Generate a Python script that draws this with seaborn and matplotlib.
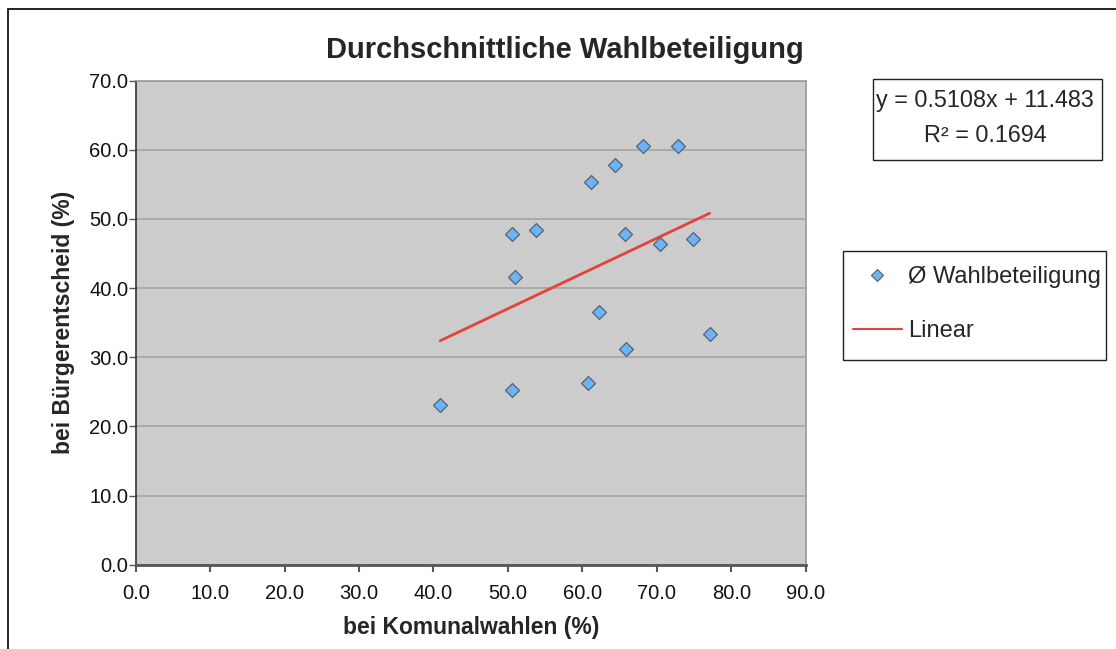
import numpy as np
import pandas as pd
import matplotlib
matplotlib.use('Agg')
import matplotlib.pyplot as plt
import seaborn as sns
from matplotlib.lines import Line2D
from matplotlib.patches import Rectangle

# Wahlbeteiligung je Gemeinde (%)
komunal = [40.9, 50.6, 50.6, 50.9, 53.8, 60.7, 61.2, 62.2, 64.4, 68.1, 72.8, 65.7, 65.9, 70.4, 74.9, 77.1]
buerger = [23.1, 25.2, 47.9, 41.6, 48.4, 26.3, 55.3, 36.5, 57.8, 60.6, 60.6, 47.9, 31.2, 46.4, 47.1, 33.4]

title = 'Durchschnittliche Wahlbeteiligung'
xlab = 'bei Komunalwahlen (%)'
ylab = 'bei Bürgerentscheid (%)'
series_name = 'Ø Wahlbeteiligung'
trend_name = 'Linear'
eq_line = 'y = 0.5108x + 11.483'
r2_line = 'R² = 0.1694'
ticks_x = [0, 10, 20, 30, 40, 50, 60, 70, 80, 90]
ticks_y = [0, 10, 20, 30, 40, 50, 60, 70]

df = pd.DataFrame({'komunal': komunal, 'buerger': buerger})

sns.set_style('white')
plt.rcParams['font.family'] = ['Liberation Sans', 'DejaVu Sans']

W, H = 1116, 649
fig = plt.figure(figsize=(W / 100, H / 100), dpi=100)

def fx(px):
    return px / W

def fy(py):
    return 1 - py / H

# outer chart border (only top/left visible in the crop)
fig.patches.append(Rectangle((fx(8), fy(1200)), 2, fy(9) - fy(1200), transform=fig.transFigure,
                             fill=False, edgecolor='black', lw=1.2))

ax = fig.add_axes([fx(135.7), fy(564.7), fx(805.7) - fx(135.7), fy(80.7) - fy(564.7)])
ax.set_facecolor('#cccccc')

red = '#e5423b'
blue = '#6db3f7'
sns.regplot(data=df, x='komunal', y='buerger', scatter=False, ci=None, ax=ax,
            line_kws=dict(color=red, lw=2, zorder=2))
sns.scatterplot(data=df, x='komunal', y='buerger', marker='D', s=50, color=blue,
                edgecolor='#56626e', linewidth=0.9, ax=ax, zorder=3, legend=False)

ax.set_xlim(0, 90)
ax.set_ylim(0, 70)
ax.set_xticks(ticks_x)
ax.set_yticks(ticks_y)
ax.set_xticklabels([f'{t:.1f}' for t in ticks_x])
ax.set_yticklabels([f'{t:.1f}' for t in ticks_y])
ax.yaxis.grid(True, color='#a4a4a4', lw=1.2)
ax.set_axisbelow(True)
ax.tick_params(axis='x', direction='out', length=5, width=1.5, color='#555555', pad=9,
               labelsize=14.5, labelcolor='#111111', bottom=True)
ax.tick_params(axis='y', direction='out', length=5, width=1, color='#555555', pad=0.3,
               labelsize=14.5, labelcolor='#111111', left=True)

for side in ['top', 'right']:
    ax.spines[side].set_color('#999999')
    ax.spines[side].set_linewidth(1.2)
ax.spines['left'].set_color('#333333')
ax.spines['left'].set_linewidth(1.2)
ax.spines['bottom'].set_color('#555555')
ax.spines['bottom'].set_linewidth(2)

ax.set_xlabel(xlab, fontsize=16.5, fontweight='bold', labelpad=9)
ax.set_ylabel(ylab, fontsize=16.5, fontweight='bold', labelpad=10)

fig.text(fx(565), fy(50), title, ha='center', va='center', fontsize=21, fontweight='bold')

# equation box
fig.patches.append(Rectangle((fx(872.7), fy(160)), fx(1101.7) - fx(872.7), fy(79.3) - fy(160),
                             transform=fig.transFigure, fill=False, edgecolor='#222222', lw=1))
fig.text(fx(985), fy(101), eq_line, ha='center', va='center', fontsize=16.8)
fig.text(fx(985), fy(136), r2_line, ha='center', va='center', fontsize=16.8)

# legend box
fig.patches.append(Rectangle((fx(843.3), fy(360)), fx(1106) - fx(843.3), fy(250.7) - fy(360),
                             transform=fig.transFigure, fill=False, edgecolor='#222222', lw=1))
handles = [Line2D([], [], marker='D', ls='none', markersize=6, markerfacecolor=blue,
                  markeredgecolor='#56626e', markeredgewidth=0.8),
           Line2D([], [], color=red, lw=1.5)]
fig.legend(handles, [series_name, trend_name], loc='center left',
           bbox_to_anchor=(fx(852.7), fy(304)), frameon=False, fontsize=17,
           borderpad=0, borderaxespad=0, handlelength=2.1, handletextpad=0.25,
           labelspacing=1.35)

fig.savefig('out.png', dpi=100)
